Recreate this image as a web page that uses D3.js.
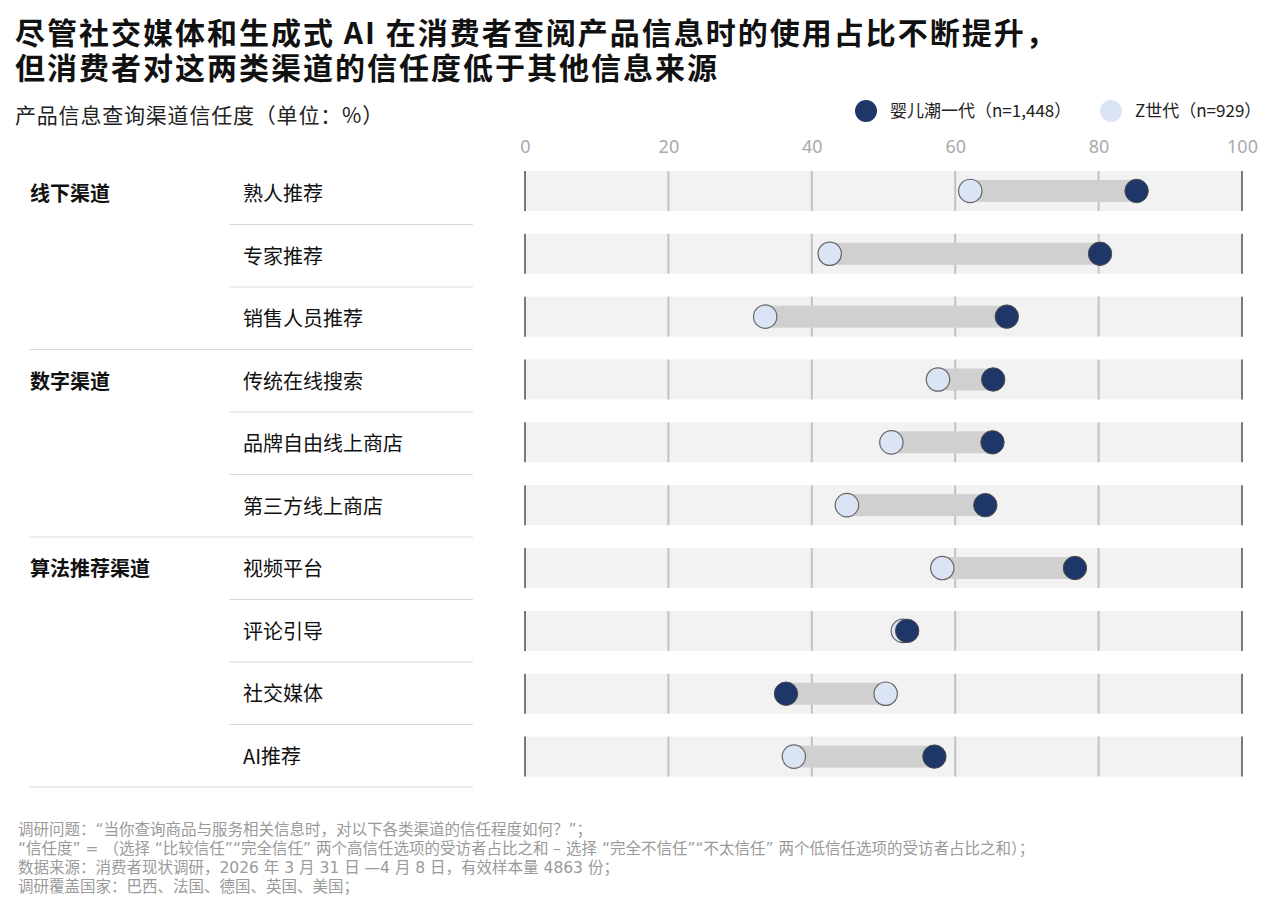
<!DOCTYPE html>
<html>
<head>
<meta charset="utf-8">
<script src="https://cdn.jsdelivr.net/npm/d3@7"></script>
<style>
  html, body { margin: 0; padding: 0; background: #fff; }
  svg { display: block; font-family: "Noto Sans CJK SC", "Noto Sans", sans-serif; }
</style>
</head>
<body>
<svg id="chart" width="1274" height="917"></svg>
<script>
const titleLines = ["尽管社交媒体和生成式 AI 在消费者查阅产品信息时的使用占比不断提升，", "但消费者对这两类渠道的信任度低于其他信息来源"];
const subtitle = "产品信息查询渠道信任度（单位：%）";
const seriesNames = ["婴儿潮一代（n=1,448）", "Z世代（n=929）"];
const groups = ["线下渠道", "数字渠道", "算法推荐渠道"];
const items = ["熟人推荐", "专家推荐", "销售人员推荐", "传统在线搜索", "品牌自由线上商店", "第三方线上商店", "视频平台", "评论引导", "社交媒体", "AI推荐"];
const itemGroup = [0, 0, 0, 1, 1, 1, 2, 2, 2, 2];
const boomer = [85.3, 80.2, 67.2, 65.3, 65.2, 64.2, 76.7, 53.3, 36.4, 57.1];
const genZ = [62.1, 42.5, 33.5, 57.6, 51.1, 44.9, 58.2, 52.7, 50.3, 37.5];
const xTicks = [0, 20, 40, 60, 80, 100];
const footnotes = [
  "调研问题：“当你查询商品与服务相关信息时，对以下各类渠道的信任程度如何？”；",
  "“信任度” = （选择 “比较信任”“完全信任” 两个高信任选项的受访者占比之和 – 选择 “完全不信任”“不太信任” 两个低信任选项的受访者占比之和）；",
  "数据来源：消费者现状调研，2026 年 3 月 31 日 —4 月 8 日，有效样本量 4863 份；",
  "调研覆盖国家：巴西、法国、德国、英国、美国；"
];

const cDark = "#1f3768";
const cLight = "#dbe4f5";

const svg = d3.select("#chart");

// Title (one text block, two lines)
svg.append("text")
  .attr("x", 15).attr("y", 43.5)
  .attr("font-size", 30).attr("font-weight", 700).attr("fill", "#111")
  .attr("letter-spacing", 2)
  .selectAll("tspan").data(titleLines).join("tspan")
  .attr("x", 15).attr("dy", (d, i) => i === 0 ? 0 : 35.5)
  .text(d => d);

svg.append("text").attr("x", 15).attr("y", 122.5)
  .attr("font-size", 21).attr("letter-spacing", 0.8).attr("fill", "#222").text(subtitle);

// Legend
const legend = svg.append("g");
const legendX = [866, 1111];
const legendFill = [cDark, cLight];
legend.selectAll("circle").data(seriesNames).join("circle")
  .attr("cx", (d, i) => legendX[i]).attr("cy", 111).attr("r", 11)
  .attr("fill", (d, i) => legendFill[i]);
legend.selectAll("text").data(seriesNames).join("text")
  .attr("x", (d, i) => legendX[i] + 24).attr("y", 117)
  .attr("font-size", 17).attr("fill", "#222").text(d => d);

// Scales
const x = d3.scaleLinear().domain([0, 100]).range([525, 1242]);
const yBand = d3.scaleBand().domain(items).range([159.5, 788]);
const yRow = d3.scaleBand().domain(items).range([162, 787]);
const bandH = 40;
const barH = 22;
const r = 11.7;

// Axis
const axis = d3.axisTop(x).tickValues(xTicks).tickSize(0).tickPadding(0);
const axG = svg.append("g").attr("transform", "translate(0,153)").call(axis);
axG.select(".domain").remove();
axG.selectAll("text").attr("font-size", 18).attr("fill", "#aaa")
  .attr("font-family", "'Noto Sans', 'Noto Sans CJK SC', sans-serif");

// Rows
const rows = svg.append("g").selectAll("g").data(items).join("g")
  .attr("transform", d => `translate(0,${yBand(d) + yBand.bandwidth() / 2})`);

rows.append("rect")
  .attr("x", x(0)).attr("width", x(100) - x(0))
  .attr("y", -bandH / 2).attr("height", bandH)
  .attr("fill", "#f2f2f2");

rows.selectAll("line.grid").data(xTicks).join("line")
  .attr("class", "grid")
  .attr("x1", d => x(d)).attr("x2", d => x(d))
  .attr("y1", -bandH / 2).attr("y2", bandH / 2)
  .attr("stroke", d => (d === 0 || d === 100) ? "#7a7a7a" : "#c2c2c2")
  .attr("stroke-width", 2);

rows.append("rect")
  .attr("x", (d, i) => x(Math.min(boomer[i], genZ[i])))
  .attr("width", (d, i) => Math.abs(x(boomer[i]) - x(genZ[i])))
  .attr("y", -barH / 2).attr("height", barH)
  .attr("fill", "#d0d0d0");

rows.append("circle")
  .attr("cx", (d, i) => x(genZ[i])).attr("cy", 0).attr("r", r)
  .attr("fill", cLight).attr("stroke", "#666").attr("stroke-width", 1.2);

rows.append("circle")
  .attr("cx", (d, i) => x(boomer[i])).attr("cy", 0).attr("r", r)
  .attr("fill", cDark).attr("stroke", "#4a4a4a").attr("stroke-width", 1);

// Left table
const table = svg.append("g");
table.selectAll("text.item").data(items).join("text")
  .attr("class", "item")
  .attr("x", 243).attr("y", d => yRow(d) + yRow.bandwidth() / 2 + 8)
  .attr("font-size", 20).attr("fill", "#111").text(d => d);

const firstOfGroup = groups.map((g, gi) => items[itemGroup.indexOf(gi)]);
table.selectAll("text.group").data(groups).join("text")
  .attr("class", "group")
  .attr("x", 30).attr("y", (d, i) => yRow(firstOfGroup[i]) + yRow.bandwidth() / 2 + 8)
  .attr("font-size", 20).attr("font-weight", 700).attr("fill", "#111").text(d => d);

table.selectAll("line.sep").data(items).join("line")
  .attr("class", "sep")
  .attr("x1", (d, i) => (i === items.length - 1 || itemGroup[i + 1] !== itemGroup[i]) ? 29 : 229)
  .attr("x2", 473)
  .attr("y1", d => yRow(d) + yRow.bandwidth()).attr("y2", d => yRow(d) + yRow.bandwidth())
  .attr("stroke", "#d9d9d9").attr("stroke-width", 1.2);

// Footnotes
svg.append("g").selectAll("text").data(footnotes).join("text")
  .attr("x", 18).attr("y", (d, i) => 835 + i * 19)
  .attr("font-size", 15.5).attr("fill", "#9a9a9a")
  .attr("font-family", "'DejaVu Sans', 'Noto Sans CJK SC', sans-serif")
  .text(d => d);
</script>
</body>
</html>
